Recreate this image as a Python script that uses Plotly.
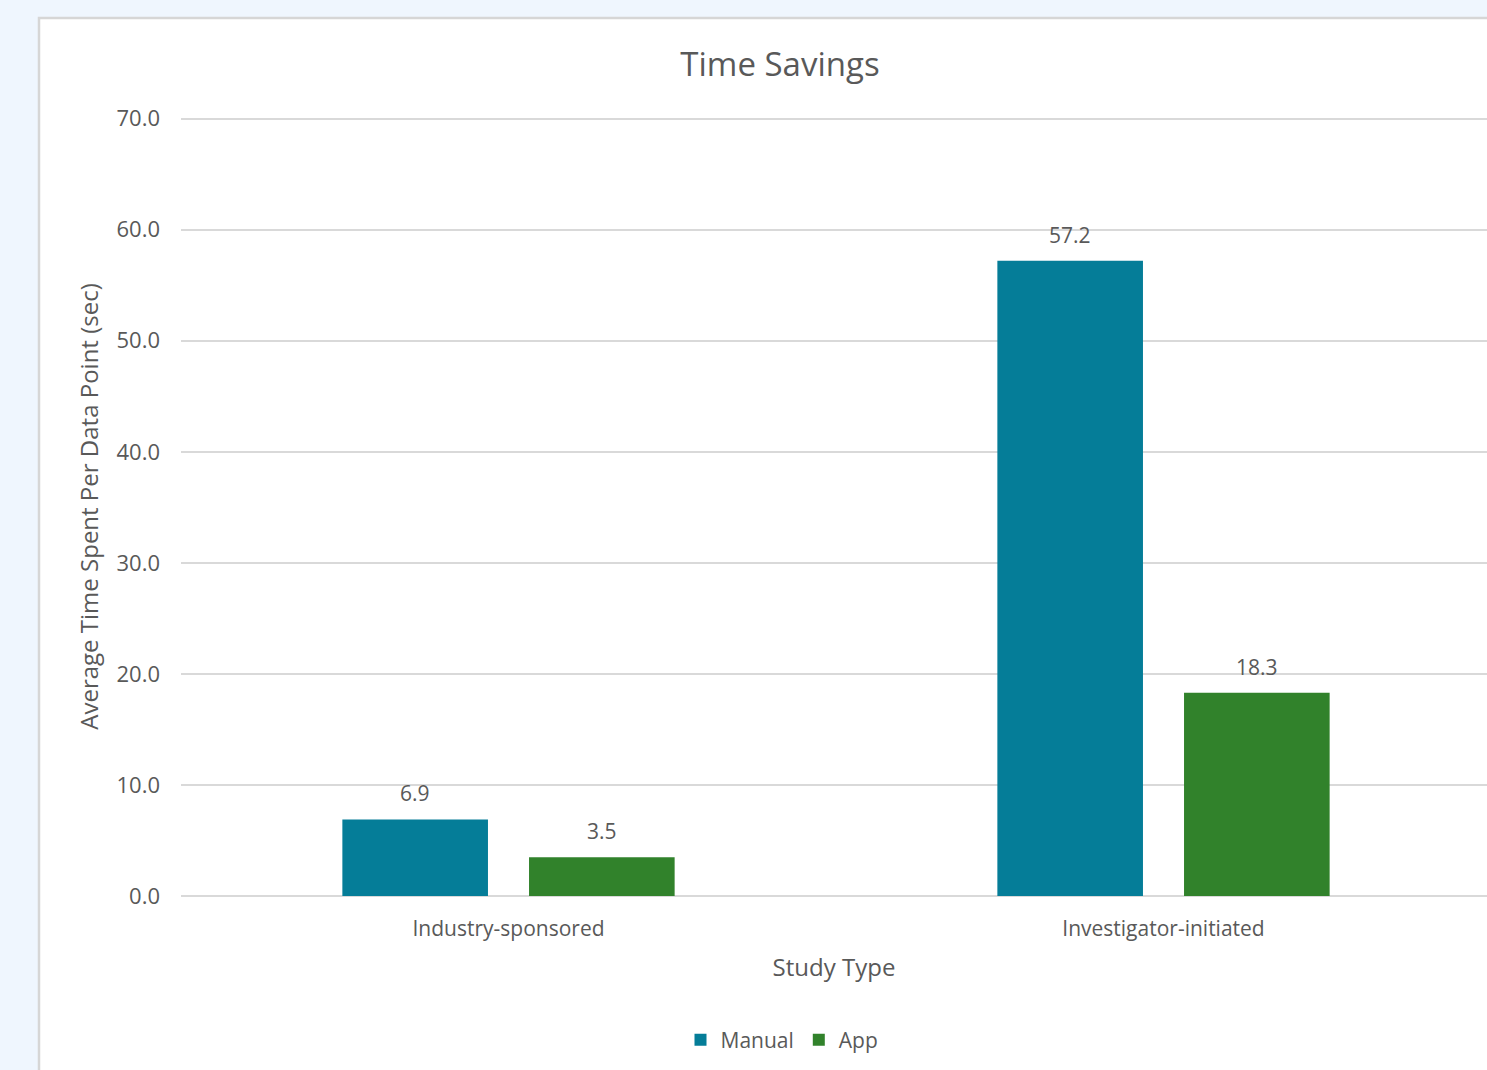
import plotly.graph_objects as go

# Chart data
study_types = ["Industry-sponsored", "Investigator-initiated"]
manual_sec = [6.9, 57.2]
app_sec = [3.5, 18.3]
y_ticks = [0, 10, 20, 30, 40, 50, 60, 70]
y_tick_labels = ["0.0", "10.0", "20.0", "30.0", "40.0", "50.0", "60.0", "70.0"]

TEXT = "#595959"
GRID = "#d9d9d9"
FONT = "Open Sans"
MANUAL_COLOR = "#057d98"
APP_COLOR = "#31822b"

W, H = 1487, 1070
Y_MAX = 70.15  # a hair above the top tick so its gridline is drawn
M_L, M_T, M_R, M_B = 181, 117, 0, 174
plot_w = W - M_L - M_R
plot_h = H - M_T - M_B

fig = go.Figure()
fig.add_trace(go.Bar(name="Manual", x=study_types, y=manual_sec,
                     marker=dict(color=MANUAL_COLOR, line=dict(width=0))))
fig.add_trace(go.Bar(name="App", x=study_types, y=app_sec,
                     marker=dict(color=APP_COLOR, line=dict(width=0))))

# value labels above each bar, offset to the bar's slot in the group
slot_px = 187
for series, sign in ((manual_sec, -0.5), (app_sec, 0.5)):
    for cat, val in zip(study_types, series):
        fig.add_annotation(x=cat, y=val, xref="x", yref="y", text=f"{val:.1f}",
                           showarrow=False, xshift=sign * slot_px, yshift=26,
                           yanchor="middle", font=dict(family=FONT, size=21, color=TEXT))

# white chart panel with a light border on the pale page background
fig.add_shape(type="rect", xref="paper", yref="paper", layer="below",
              x0=(39 - M_L) / plot_w, x1=1.2,
              y0=(H - M_B - 18) / plot_h, y1=-0.4,
              fillcolor="white", line=dict(color="#d6d6d6", width=2.5))

fig.update_layout(
    width=W, height=H,
    margin=dict(l=M_L, r=M_R, t=M_T, b=M_B, autoexpand=False),
    paper_bgcolor="#eff6fe",
    plot_bgcolor="white",
    barmode="group",
    bargap=0.43,
    bargroupgap=0.22,
    font=dict(family=FONT, color=TEXT, size=21),
    title=dict(text="Time Savings", x=780 / W, xref="container", xanchor="center",
               y=1 - 64 / H, yref="container", yanchor="middle",
               font=dict(family=FONT, size=33, color=TEXT)),
    showlegend=True,
    legend=dict(orientation="h", x=(782 - M_L) / plot_w, xanchor="center",
                y=(H - M_B - 1040) / plot_h, yanchor="middle",
                font=dict(family=FONT, size=21, color=TEXT),
                bgcolor="rgba(0,0,0,0)", itemwidth=30, tracegroupgap=0),
    xaxis=dict(range=[-0.5, 1.5 - 4 / 655], showgrid=False, zeroline=False,
               showline=False, ticks="", ticklabelstandoff=18,
               tickfont=dict(family=FONT, size=21, color=TEXT),
               title=dict(text="Study Type", standoff=18,
                          font=dict(family=FONT, size=24, color=TEXT))),
    yaxis=dict(range=[0, Y_MAX], tickvals=y_ticks, ticktext=y_tick_labels,
               showgrid=True, gridcolor=GRID, gridwidth=1.5,
               zeroline=True, zerolinecolor=GRID, zerolinewidth=1.5,
               showline=False, ticks="", ticklabelstandoff=20,
               tickfont=dict(family=FONT, size=22, color=TEXT),
               title=dict(text="Average Time Spent Per Data Point (sec)", standoff=11,
                          font=dict(family=FONT, size=24, color=TEXT))),
)

fig.write_html("out.html")
